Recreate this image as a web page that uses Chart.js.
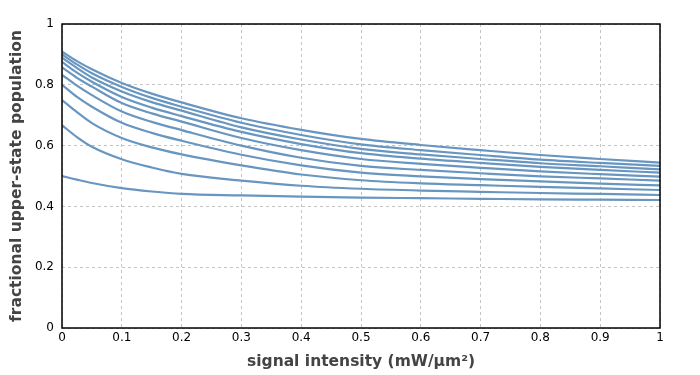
<!DOCTYPE html>
<html>
<head>
<meta charset="utf-8">
<script src="https://cdn.jsdelivr.net/npm/chart.js@4/dist/chart.umd.min.js"></script>
<style>
  html, body { margin: 0; padding: 0; background: #fff; }
</style>
</head>
<body>
<canvas id="popChart" width="700" height="375"></canvas>
<script>
// signal intensity values (mW/µm²) where the curves were read
const intensity = [0, 0.025, 0.05, 0.1, 0.15, 0.2, 0.3, 0.4, 0.5, 0.6, 0.7, 0.8, 0.9, 1.0];

// fractional upper-state population, one array per pump level (lowest to highest)
const pump1  = [0.500, 0.488, 0.477, 0.460, 0.449, 0.441, 0.436, 0.432, 0.429, 0.427, 0.425, 0.423, 0.422, 0.421];
const pump2  = [0.667, 0.628, 0.596, 0.555, 0.528, 0.507, 0.485, 0.468, 0.458, 0.452, 0.448, 0.444, 0.441, 0.4375];
const pump3  = [0.750, 0.710, 0.674, 0.625, 0.594, 0.571, 0.535, 0.505, 0.486, 0.476, 0.470, 0.464, 0.459, 0.454];
const pump4  = [0.800, 0.760, 0.728, 0.675, 0.642, 0.616, 0.570, 0.535, 0.511, 0.499, 0.490, 0.482, 0.475, 0.469];
const pump5  = [0.833, 0.797, 0.766, 0.712, 0.678, 0.651, 0.600, 0.560, 0.533, 0.520, 0.509, 0.499, 0.492, 0.485];
const pump6  = [0.857, 0.823, 0.794, 0.740, 0.706, 0.679, 0.625, 0.585, 0.556, 0.540, 0.527, 0.515, 0.506, 0.498];
const pump7  = [0.875, 0.840, 0.810, 0.760, 0.725, 0.697, 0.645, 0.605, 0.575, 0.557, 0.543, 0.530, 0.520, 0.511];
const pump8  = [0.889, 0.855, 0.824, 0.778, 0.743, 0.715, 0.660, 0.620, 0.589, 0.571, 0.556, 0.542, 0.532, 0.522];
const pump9  = [0.900, 0.867, 0.838, 0.793, 0.757, 0.728, 0.675, 0.635, 0.604, 0.585, 0.569, 0.554, 0.543, 0.533];
const pump10 = [0.909, 0.878, 0.851, 0.806, 0.771, 0.742, 0.690, 0.652, 0.622, 0.602, 0.585, 0.569, 0.556, 0.544];

const curves = [pump1, pump2, pump3, pump4, pump5, pump6, pump7, pump8, pump9, pump10];

const lineColor = 'rgb(104, 150, 192)';
const gridColor = '#c4c4c4';
const textColor = '#444';

// frame around the plot area (all four sides)
const framePlugin = {
  id: 'frame',
  afterDraw(chart) {
    const a = chart.chartArea, c = chart.ctx;
    c.save();
    c.strokeStyle = '#000';
    c.lineWidth = 1.5;
    c.strokeRect(a.left, a.top, a.right - a.left, a.bottom - a.top);
    c.restore();
  }
};

const ctx = document.getElementById('popChart').getContext('2d');
const popChart = new Chart(ctx, {
  type: 'line',
  data: {
    datasets: curves.map((vals, i) => ({
      label: 'pump ' + (i + 1),
      data: intensity.map((x, j) => ({ x: x, y: vals[j] })),
      borderColor: lineColor,
      borderWidth: 2.2,
      pointRadius: 0,
      fill: false,
      cubicInterpolationMode: 'monotone'
    }))
  },
  options: {
    responsive: false,
    animation: false,
    layout: { padding: { left: 4, right: 40, top: 24, bottom: 0 } },
    plugins: { legend: { display: false }, tooltip: { enabled: false } },
    scales: {
      x: {
        type: 'linear',
        min: 0, max: 1,
        afterFit: s => { s.height = 47; },
        ticks: { stepSize: 0.1, autoSkip: false, color: '#000', font: { family: 'DejaVu Sans', size: 12 }, padding: 3,
                 maxRotation: 0, callback: v => Math.round(v * 10) / 10 },
        grid: { color: gridColor, drawTicks: false },
        border: { display: false, dash: [3, 3] },
        title: { display: true, text: 'signal intensity (mW/µm²)', color: textColor,
                 font: { family: 'DejaVu Sans', size: 15.5, weight: 'bold' }, padding: { top: 2 } }
      },
      y: {
        min: 0, max: 1,
        afterFit: s => { s.width = 58; },
        ticks: { stepSize: 0.2, autoSkip: false, color: '#000', font: { family: 'DejaVu Sans', size: 12 }, padding: 8,
                 callback: v => Math.round(v * 10) / 10 },
        grid: { color: gridColor, drawTicks: false },
        border: { display: false, dash: [3, 3] },
        title: { display: true, text: 'fractional upper-state population', color: textColor,
                 font: { family: 'DejaVu Sans', size: 15.5, weight: 'bold' }, padding: { bottom: 2 } }
      }
    }
  },
  plugins: [framePlugin]
});
</script>
</body>
</html>
